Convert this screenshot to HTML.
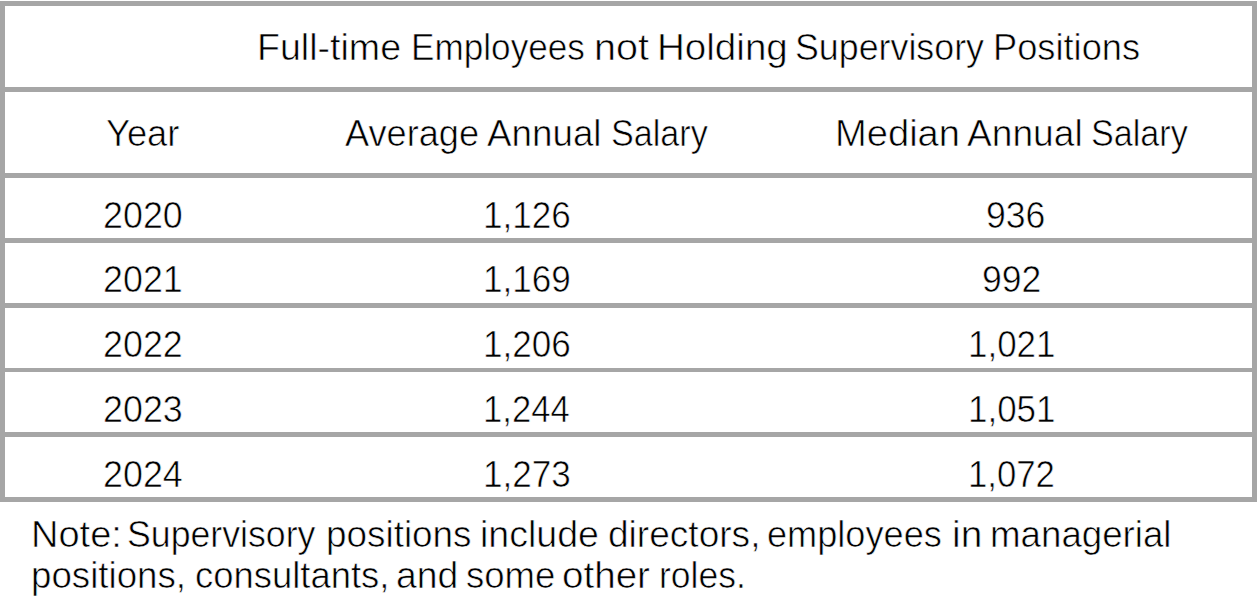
<!DOCTYPE html>
<html><head><meta charset="utf-8"><style>
html,body{margin:0;padding:0;background:#fff;}
body{width:1258px;height:605px;position:relative;overflow:hidden;font-family:"Liberation Sans",sans-serif;color:#000;}
.h{position:absolute;left:0;width:1257px;background:#a6a6a6;}
.v{position:absolute;width:5px;background:#a6a6a6;}
.t{position:absolute;font-size:36px;line-height:40px;white-space:nowrap;transform-origin:0 0;-webkit-text-stroke:0.6px #fff;}
</style></head><body>
<div class="h" style="top:1px;height:5px"></div>
<div class="h" style="top:87px;height:5px"></div>
<div class="h" style="top:173px;height:5px"></div>
<div class="h" style="top:238px;height:5px"></div>
<div class="h" style="top:303px;height:5px"></div>
<div class="h" style="top:368px;height:4px"></div>
<div class="h" style="top:432px;height:5px"></div>
<div class="h" style="top:497px;height:5px"></div>
<div class="v" style="left:0;top:1px;height:501px"></div>
<div class="v" style="left:1252px;top:1px;height:501px"></div>
<div class="t" style="left:256.82px;top:28.00px;transform:scaleX(1.0440)">Full-time</div>
<div class="t" style="left:411.09px;top:28.00px;transform:scaleX(0.9768)">Employees</div>
<div class="t" style="left:593.71px;top:28.00px;transform:scaleX(1.0981)">not</div>
<div class="t" style="left:656.71px;top:28.00px;transform:scaleX(1.0713)">Holding</div>
<div class="t" style="left:794.81px;top:28.00px;transform:scaleX(0.9942)">Supervisory</div>
<div class="t" style="left:992.97px;top:28.00px;transform:scaleX(1.0071)">Positions</div>
<div class="t" style="left:106.17px;top:114.00px;transform:scaleX(1.0088)">Year</div>
<div class="t" style="left:345.39px;top:114.00px;transform:scaleX(1.0046)">Average</div>
<div class="t" style="left:486.79px;top:114.00px;transform:scaleX(1.0214)">Annual</div>
<div class="t" style="left:610.92px;top:114.00px;transform:scaleX(0.9480)">Salary</div>
<div class="t" style="left:834.77px;top:114.00px;transform:scaleX(1.0586)">Median</div>
<div class="t" style="left:966.78px;top:114.00px;transform:scaleX(1.0315)">Annual</div>
<div class="t" style="left:1090.92px;top:114.00px;transform:scaleX(0.9480)">Salary</div>
<div class="t" style="left:103.21px;top:196.00px;transform:scaleX(0.9962)">2020</div>
<div class="t" style="left:482.89px;top:196.00px;transform:scaleX(0.9742)">1,126</div>
<div class="t" style="left:986.42px;top:196.00px;transform:scaleX(0.9893)">936</div>
<div class="t" style="left:103.21px;top:260.00px;transform:scaleX(0.9962)">2021</div>
<div class="t" style="left:482.89px;top:260.00px;transform:scaleX(0.9742)">1,169</div>
<div class="t" style="left:982.43px;top:260.00px;transform:scaleX(0.9875)">992</div>
<div class="t" style="left:103.21px;top:325.00px;transform:scaleX(0.9962)">2022</div>
<div class="t" style="left:482.89px;top:325.00px;transform:scaleX(0.9742)">1,206</div>
<div class="t" style="left:968.10px;top:325.00px;transform:scaleX(0.9703)">1,021</div>
<div class="t" style="left:103.21px;top:390.00px;transform:scaleX(0.9962)">2023</div>
<div class="t" style="left:482.92px;top:390.00px;transform:scaleX(0.9624)">1,244</div>
<div class="t" style="left:968.10px;top:390.00px;transform:scaleX(0.9703)">1,051</div>
<div class="t" style="left:103.21px;top:455.00px;transform:scaleX(0.9961)">2024</div>
<div class="t" style="left:482.89px;top:455.00px;transform:scaleX(0.9742)">1,273</div>
<div class="t" style="left:968.12px;top:455.00px;transform:scaleX(0.9644)">1,072</div>
<div class="t" style="left:30.59px;top:515.00px;transform:scaleX(1.0558)">Note:</div>
<div class="t" style="left:127.03px;top:515.00px;transform:scaleX(0.9914)">Supervisory</div>
<div class="t" style="left:326.12px;top:515.00px;transform:scaleX(1.0241)">positions</div>
<div class="t" style="left:480.08px;top:515.00px;transform:scaleX(1.0422)">include</div>
<div class="t" style="left:607.54px;top:515.00px;transform:scaleX(1.0296)">directors,</div>
<div class="t" style="left:767.39px;top:515.00px;transform:scaleX(1.0041)">employees</div>
<div class="t" style="left:951.79px;top:515.00px;transform:scaleX(1.0788)">in</div>
<div class="t" style="left:989.54px;top:515.00px;transform:scaleX(1.0192)">managerial</div>
<div class="t" style="left:31.14px;top:556.00px;transform:scaleX(1.0193)">positions,</div>
<div class="t" style="left:194.57px;top:556.00px;transform:scaleX(1.0118)">consultants,</div>
<div class="t" style="left:395.91px;top:556.00px;transform:scaleX(1.0347)">and</div>
<div class="t" style="left:465.98px;top:556.00px;transform:scaleX(1.0143)">some</div>
<div class="t" style="left:562.40px;top:556.00px;transform:scaleX(1.0721)">other</div>
<div class="t" style="left:658.84px;top:556.00px;transform:scaleX(0.9865)">roles.</div>
</body></html>
